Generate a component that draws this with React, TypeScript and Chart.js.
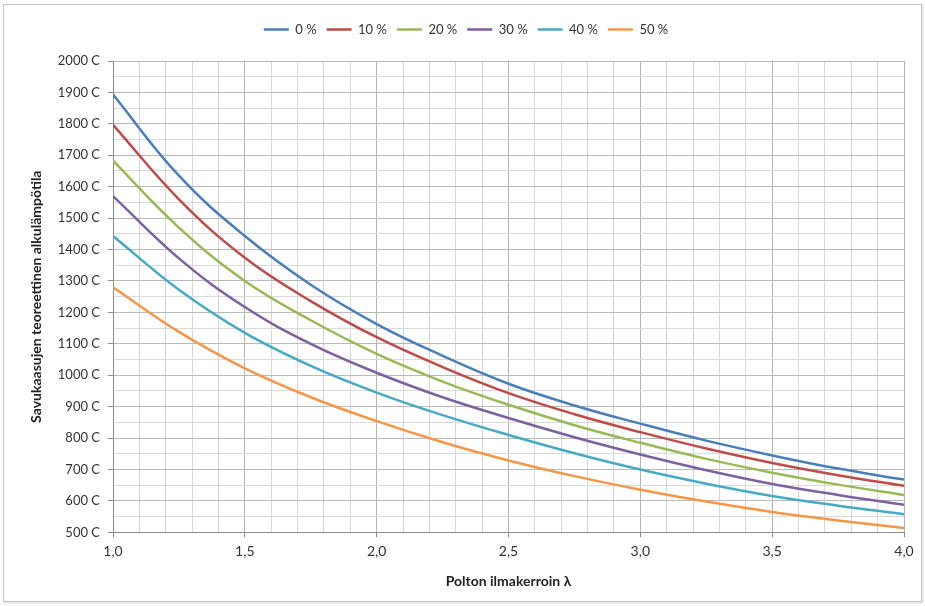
import React, { useEffect, useRef } from 'react';
import { Chart, registerables } from 'chart.js';

Chart.register(...registerables);

const lambdas = [1.0, 1.25, 1.5, 1.75, 2.0, 2.25, 2.5, 2.75, 3.0, 3.25, 3.5, 3.75, 4.0];
const seriesLabels = ['0 %', '10 %', '20 %', '30 %', '40 %', '50 %'];
const s0 = [1893, 1635, 1443, 1288, 1163, 1062, 973, 904, 846, 792, 745, 703, 668];
const s10 = [1797, 1560, 1374, 1236, 1121, 1026, 943, 876, 819, 767, 721, 682, 648];
const s20 = [1683, 1470, 1300, 1175, 1068, 980, 906, 841, 785, 734, 690, 652, 619];
const s30 = [1570, 1372, 1217, 1100, 1008, 930, 864, 803, 748, 698, 654, 619, 588];
const s40 = [1443, 1272, 1135, 1030, 945, 873, 810, 752, 700, 655, 616, 585, 558];
const s50 = [1280, 1138, 1022, 930, 854, 787, 729, 679, 636, 598, 565, 538, 514];
const seriesColors = ['#4A7EBB', '#BE4B48', '#98B954', '#7D60A0', '#46AAC5', '#F79646'];
const xMin = 1.0;
const xMax = 4.0;
const yMin = 500;
const yMax = 2000;

const FONT = 'Lato, "Open Sans", sans-serif';

const isHalf = (v: number) => Math.abs(v * 2 - Math.round(v * 2)) < 1e-6;
const isHundred = (v: number) => Math.abs(v / 100 - Math.round(v / 100)) < 1e-6;

const legendGap = {
  id: 'legendGap',
  beforeInit(chart: any) {
    const legend = chart.legend;
    if (!legend) return;
    const origFit = legend.fit;
    legend.fit = function () {
      origFit.call(this);
      this.height += 15;
    };
  },
};

export default function App() {
  const ref = useRef<HTMLCanvasElement | null>(null);

  useEffect(() => {
    if (!ref.current) return;
    const all = [s0, s10, s20, s30, s40, s50];
    const chart = new Chart(ref.current, {
      type: 'line',
      plugins: [legendGap],
      data: {
        datasets: all.map((s, i) => ({
          label: seriesLabels[i],
          data: s.map((y, j) => ({ x: lambdas[j], y })),
          borderColor: seriesColors[i],
          backgroundColor: seriesColors[i],
          borderWidth: 2.5,
          pointRadius: 0,
          tension: 0.4,
          fill: false,
        })),
      },
      options: {
        animation: false,
        responsive: false,
        maintainAspectRatio: false,
        layout: { padding: { left: 28, right: 21, top: 13, bottom: 16 } },
        plugins: {
          tooltip: { enabled: false },
          legend: {
            position: 'top',
            labels: {
              usePointStyle: true,
              pointStyle: 'line',
              pointStyleWidth: 25,
              color: '#333',
              font: { family: FONT, size: 13 },
              padding: 10,
            },
          },
        },
        scales: {
          x: {
            type: 'linear',
            min: xMin,
            max: xMax,
            border: { color: '#8c8c8c', width: 1 },
            grid: {
              color: (c: any) => (c.tick && isHalf(c.tick.value) ? '#b4b4b4' : '#d6d6d6'),
              tickColor: (c: any) => (c.tick && isHalf(c.tick.value) ? '#8c8c8c' : 'rgba(0,0,0,0)'),
              tickLength: 5,
            },
            ticks: {
              stepSize: 0.1,
              autoSkip: false,
              maxRotation: 0,
              padding: 6,
              color: '#333',
              font: { family: FONT, size: 14 },
              callback: (v: any) => (isHalf(Number(v)) ? Number(v).toFixed(1).replace('.', ',') : ''),
            },
            title: {
              display: true,
              text: 'Polton ilmakerroin λ',
              color: '#222',
              font: { family: FONT, size: 14, weight: 'bold' },
              padding: { top: 7, bottom: 0 },
            },
          },
          y: {
            type: 'linear',
            min: yMin,
            max: yMax,
            border: { color: '#8c8c8c', width: 1 },
            grid: {
              color: (c: any) => (c.tick && isHundred(c.tick.value) ? '#b9b9b9' : '#dadada'),
              tickColor: (c: any) => (c.tick && isHundred(c.tick.value) ? '#8c8c8c' : 'rgba(0,0,0,0)'),
              tickLength: 5,
            },
            ticks: {
              stepSize: 50,
              autoSkip: false,
              padding: 8,
              color: '#333',
              font: { family: FONT, size: 13 },
              callback: (v: any) => (isHundred(Number(v)) ? `${v} C` : ''),
            },
            title: {
              display: true,
              text: 'Savukaasujen teoreettinen alkulämpötila',
              color: '#222',
              font: { family: FONT, size: 14, weight: 'bold' },
              padding: { top: 0, bottom: 4 },
            },
            afterFit: (scale: any) => {
              scale.width = 85;
            },
          },
        },
      },
    } as any);
    return () => chart.destroy();
  }, []);

  return (
    <div style={{ position: 'absolute', left: 0, top: 0, width: 925, height: 606, background: '#fff' }}>
      <canvas ref={ref} width={925} height={606} style={{ display: 'block' }} />
      <div
        style={{
          position: 'absolute',
          left: 3,
          top: 4,
          width: 917,
          height: 596,
          border: '1px solid #c4c4c4',
          boxShadow: '1px 1px 2px rgba(0,0,0,0.15)',
          pointerEvents: 'none',
        }}
      />
    </div>
  );
}
